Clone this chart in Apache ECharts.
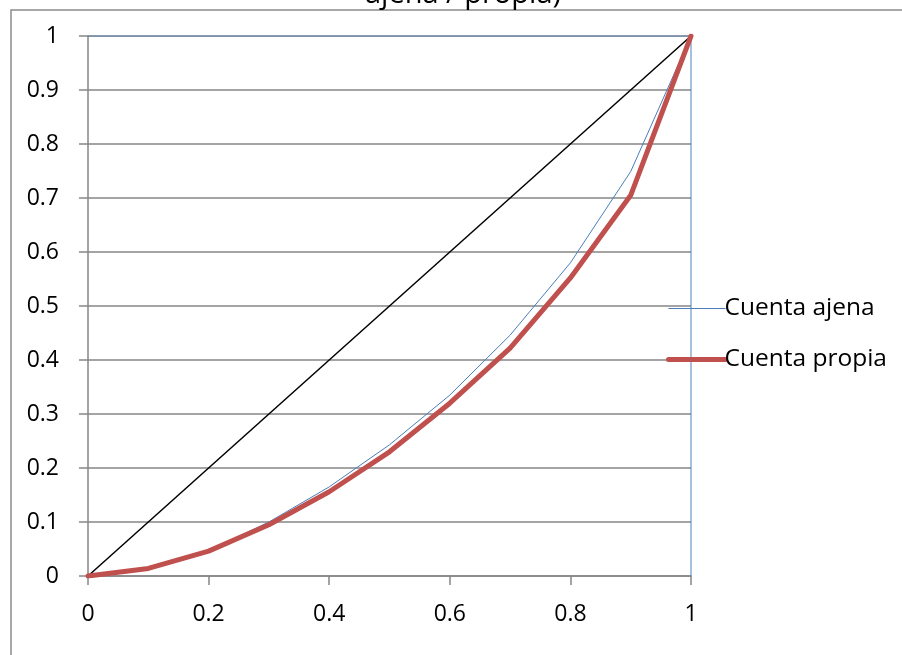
<!DOCTYPE html>
<html>
<head>
<meta charset="utf-8">
<script src="https://cdn.jsdelivr.net/npm/echarts@6/dist/echarts.min.js"></script>
<style>
html,body{margin:0;padding:0;background:#fff;}
#chart{width:902px;height:655px;}
</style>
</head>
<body>
<div id="chart"></div>
<script>
var titleText = 'ajena / propia)';
var xValues = [0, 0.1, 0.2, 0.3, 0.4, 0.5, 0.6, 0.7, 0.8, 0.9, 1];
var cuentaAjena = [0, 0.014, 0.047, 0.100, 0.165, 0.243, 0.335, 0.446, 0.580, 0.749, 1];
var cuentaPropia = [0, 0.014, 0.046, 0.095, 0.156, 0.230, 0.320, 0.422, 0.552, 0.705, 1];
var equalityX = [0, 1];
var equalityY = [0, 1];
var frameX = [0, 1, 1];
var frameY = [1, 1, 0];
var seriesNames = ['Cuenta ajena', 'Cuenta propia'];

function pairs(xs, ys) { return xs.map(function (x, i) { return [x, ys[i]]; }); }

var FONT = 'Open Sans';
var chart = echarts.init(document.getElementById('chart'), null, {renderer: 'canvas'});
chart.setOption({
  animation: false,
  backgroundColor: '#fff',
  textStyle: {fontFamily: FONT},
  grid: {left: 88, right: 211, top: 36, bottom: 79, containLabel: false},
  graphic: [
    {type: 'rect', shape: {x: 11, y: 10, width: 1000, height: 1000}, style: {fill: 'none', stroke: '#8c8c8c', lineWidth: 1.5}, z: -1},
    {type: 'text', x: 463, y: 9, style: {text: titleText, font: '29px "Open Sans"', fill: '#000', textAlign: 'center', textVerticalAlign: 'bottom'}}
  ],
  legend: {
    data: [
      {name: seriesNames[0], lineStyle: {width: 1, color: '#4a7ebb'}},
      {name: seriesNames[1], lineStyle: {width: 5, color: '#c0504d', cap: 'round'}}
    ],
    orient: 'vertical',
    left: 661, top: 291,
    itemWidth: 57, itemHeight: 20, itemGap: 26,
    itemStyle: {opacity: 0},
    textStyle: {fontFamily: FONT, fontSize: 24.5, color: '#000', padding: [0, 0, 0, -6]}
  },
  xAxis: {
    type: 'value', min: 0, max: 1, interval: 0.2,
    axisLine: {show: true, onZero: false, lineStyle: {color: '#868686', width: 1.5}},
    axisTick: {show: true, length: 9, lineStyle: {color: '#868686', width: 1.5}},
    axisLabel: {fontFamily: FONT, fontSize: 23, color: '#000', margin: 27},
    splitLine: {show: false}
  },
  yAxis: {
    type: 'value', min: 0, max: 1, interval: 0.1,
    axisLine: {show: true, onZero: false, lineStyle: {color: '#868686', width: 1.5}},
    axisTick: {show: true, length: 9, lineStyle: {color: '#868686', width: 1.5}},
    axisLabel: {fontFamily: FONT, fontSize: 23, color: '#000', margin: 29},
    splitLine: {show: true, lineStyle: {color: '#868686', width: 1.5}}
  },
  series: [
    {name: 'frame', type: 'line', data: pairs(frameX, frameY), symbol: 'none', silent: true,
     lineStyle: {color: '#4f81bd', width: 1}, z: 3},
    {name: 'equality', type: 'line', data: pairs(equalityX, equalityY), symbol: 'none',
     lineStyle: {color: '#000', width: 1.5}, z: 4},
    {name: 'Cuenta ajena', type: 'line', data: pairs(xValues, cuentaAjena), symbol: 'none',
     itemStyle: {color: '#4a7ebb'}, lineStyle: {color: '#4a7ebb', width: 1}, z: 5},
    {name: 'Cuenta propia', type: 'line', data: pairs(xValues, cuentaPropia), symbol: 'none',
     itemStyle: {color: '#c0504d'}, lineStyle: {color: '#c0504d', width: 5, cap: 'round', join: 'round'}, z: 6}
  ]
});
</script>
</body>
</html>
